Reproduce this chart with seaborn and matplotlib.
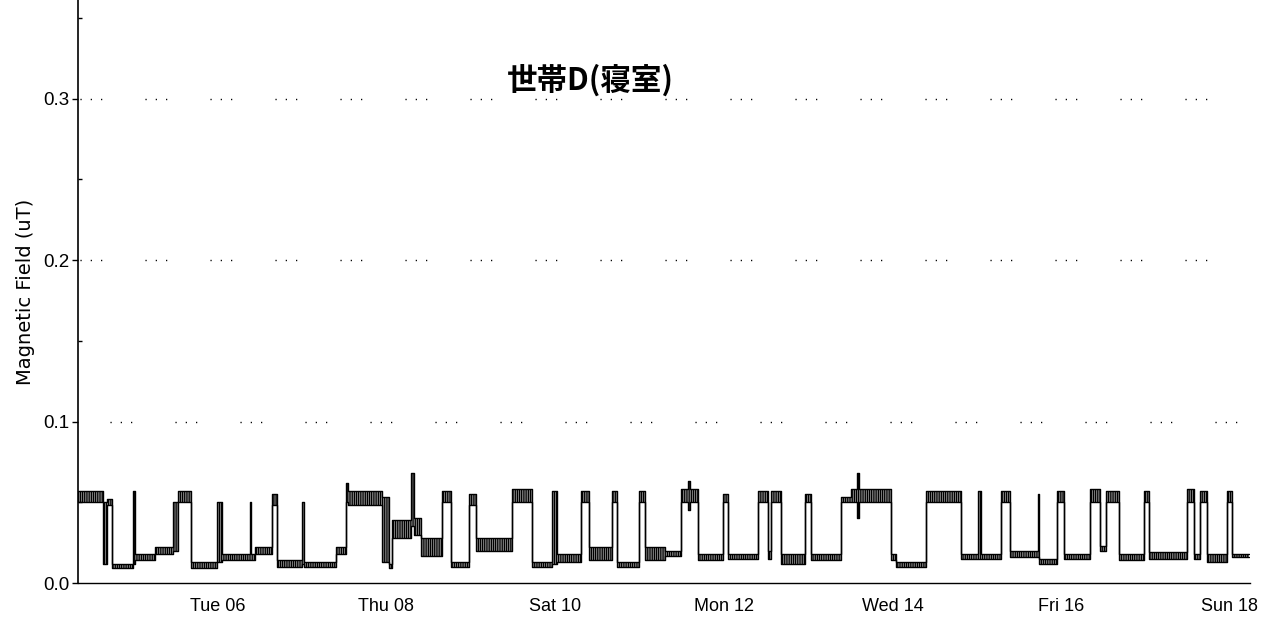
import numpy as np
import pandas as pd
import matplotlib
matplotlib.use("Agg")
import matplotlib.pyplot as plt
import matplotlib.dates as mdates
import seaborn as sns

# Bedroom magnetic field log: each record is a period (hours after the logger
# start) with the lower / upper envelope of the readings in that period (uT).
seg_start_h = [
    0.3, 7.4, 8.5, 9.9, 16.0, 16.4, 22.1, 27.2, 28.6, 32.4,
    39.7, 41.1, 49.1, 49.5, 50.5, 55.6, 57.0, 64.1, 64.5, 73.8,
    76.6, 77.0, 86.8, 88.8, 89.7, 95.1, 95.9, 97.9, 103.8, 106.4,
    111.5, 113.5, 123.7, 129.4, 135.1, 136.5, 143.3, 145.6, 152.1, 153.5,
    159.8, 161.7, 167.4, 171.7, 173.8, 174.3, 176.8, 183.9, 185.3, 193.8,
    196.6, 197.5, 200.3, 207.1, 208.8, 217.4, 220.2, 221.8, 222.4, 231.5,
    233.0, 241.5, 251.4, 256.2, 257.1, 262.8, 265.3, 273.3, 273.8, 278.9,
    280.9, 288.3, 291.1, 292.6, 296.5, 303.6, 305.0, 315.8, 317.8, 319.5,
    321.5, 327.2, 328.6,
]
seg_low = [
    0.050, 0.012, 0.048, 0.009, 0.012, 0.014, 0.018, 0.020, 0.050, 0.009,
    0.013, 0.014, 0.014, 0.014, 0.018, 0.048, 0.010, 0.012, 0.010, 0.018,
    0.050, 0.048, 0.013, 0.009, 0.028, 0.035, 0.030, 0.017, 0.050, 0.010,
    0.048, 0.020, 0.050, 0.010, 0.012, 0.013, 0.050, 0.014, 0.050, 0.010,
    0.050, 0.014, 0.017, 0.050, 0.045, 0.050, 0.014, 0.050, 0.015, 0.050,
    0.015, 0.050, 0.012, 0.050, 0.014, 0.050, 0.050, 0.040, 0.050, 0.014,
    0.010, 0.050, 0.015, 0.015, 0.015, 0.050, 0.016, 0.016, 0.012, 0.050,
    0.015, 0.050, 0.020, 0.050, 0.014, 0.050, 0.015, 0.050, 0.015, 0.050,
    0.013, 0.050, 0.016,
]
seg_high = [
    0.057, 0.050, 0.052, 0.012, 0.057, 0.018, 0.022, 0.050, 0.057, 0.013,
    0.050, 0.018, 0.050, 0.018, 0.022, 0.055, 0.014, 0.050, 0.013, 0.022,
    0.062, 0.057, 0.053, 0.012, 0.039, 0.068, 0.040, 0.028, 0.057, 0.013,
    0.055, 0.028, 0.058, 0.013, 0.057, 0.018, 0.057, 0.022, 0.057, 0.013,
    0.057, 0.022, 0.020, 0.058, 0.063, 0.058, 0.018, 0.055, 0.018, 0.057,
    0.020, 0.057, 0.018, 0.055, 0.018, 0.053, 0.058, 0.068, 0.058, 0.018,
    0.013, 0.057, 0.018, 0.057, 0.018, 0.057, 0.020, 0.055, 0.015, 0.057,
    0.018, 0.058, 0.023, 0.057, 0.018, 0.057, 0.019, 0.058, 0.018, 0.057,
    0.018, 0.057, 0.018,
]
log_end_h = 333.4

grid_levels = [0.1, 0.2, 0.3]
y_ticks = [0.0, 0.1, 0.2, 0.3]
y_tick_labels = ["0.0", "0.1", "0.2", "0.3"]
tick_days = [6, 8, 10, 12, 14, 16, 18]
title_text = "世帯D(寝室)"
y_label = "Magnetic Field (uT)"

log_start = pd.Timestamp("2009-01-04 08:00")

hours = np.append(seg_start_h, log_end_h)
times = (log_start + pd.to_timedelta(hours, unit="h")).to_numpy()
low = np.append(seg_low, seg_low[-1])
high = np.append(seg_high, seg_high[-1])
df = pd.DataFrame({"time": times, "low": low, "high": high})

sns.set_theme(style="white")
plt.rcParams["font.family"] = ["Liberation Sans", "DejaVu Sans"]
plt.rcParams["hatch.linewidth"] = 1.0
plt.rcParams["hatch.color"] = "black"

fig = plt.figure(figsize=(12.75, 6.26), dpi=100)
ax = fig.add_axes([78 / 1275, 43 / 626, (1250 - 78) / 1275, 583 / 626])

# dense sampling band between the envelopes
ax.fill_between(df["time"], df["low"], df["high"], step="post",
                facecolor="none", edgecolor="black", hatch="|||||||||", linewidth=0)
sns.lineplot(data=df, x="time", y="high", drawstyle="steps-post",
             color="black", linewidth=1.0, ax=ax)
sns.lineplot(data=df, x="time", y="low", drawstyle="steps-post",
             color="black", linewidth=1.0, ax=ax)

# sparse dotted reference lines
for lvl, off in zip(grid_levels, [23.8, 45.4, 45.4]):
    ax.axhline(lvl, color="black", linewidth=1.0,
               linestyle=(off, (0.9, 6.5, 0.9, 6.5, 0.9, 31.1)), zorder=0)

ax.set_xlim(log_start + pd.Timedelta(hours=0.27), log_start + pd.Timedelta(hours=333.7))
ax.set_ylim(0, 0.361)

ax.xaxis.set_major_locator(mdates.DayLocator(bymonthday=tick_days))
ax.xaxis.set_major_formatter(mdates.DateFormatter("%a %d"))
ax.set_yticks(y_ticks)
ax.set_yticklabels(y_tick_labels)
ax.set_yticks(np.arange(0.05, 0.36, 0.1), minor=True)

ax.tick_params(axis="x", which="major", direction="inout", length=8, width=1,
               color="black", labelsize=13, pad=7, labelcolor="black")
ax.tick_params(axis="y", which="major", direction="out", length=4, width=1,
               color="black", labelsize=13.5, pad=2, labelcolor="black", left=True)
ax.tick_params(axis="y", which="minor", direction="in", length=3, width=1,
               color="black", left=True)

ax.set_xlabel("")
ax.set_ylabel(y_label, fontsize=14, labelpad=6, color="black", family="DejaVu Sans")

for side in ["top", "right"]:
    ax.spines[side].set_visible(False)
ax.spines["left"].set_color("black")
ax.spines["left"].set_linewidth(1.2)
ax.spines["bottom"].set_color("black")
ax.spines["bottom"].set_linewidth(1.0)

ax.text(0.437, 0.862, title_text, transform=ax.transAxes, ha="center", va="center",
        fontsize=22, fontweight="bold", color="black",
        family=["Noto Sans CJK JP", "DejaVu Sans"])

fig.savefig("out.png", dpi=100)
